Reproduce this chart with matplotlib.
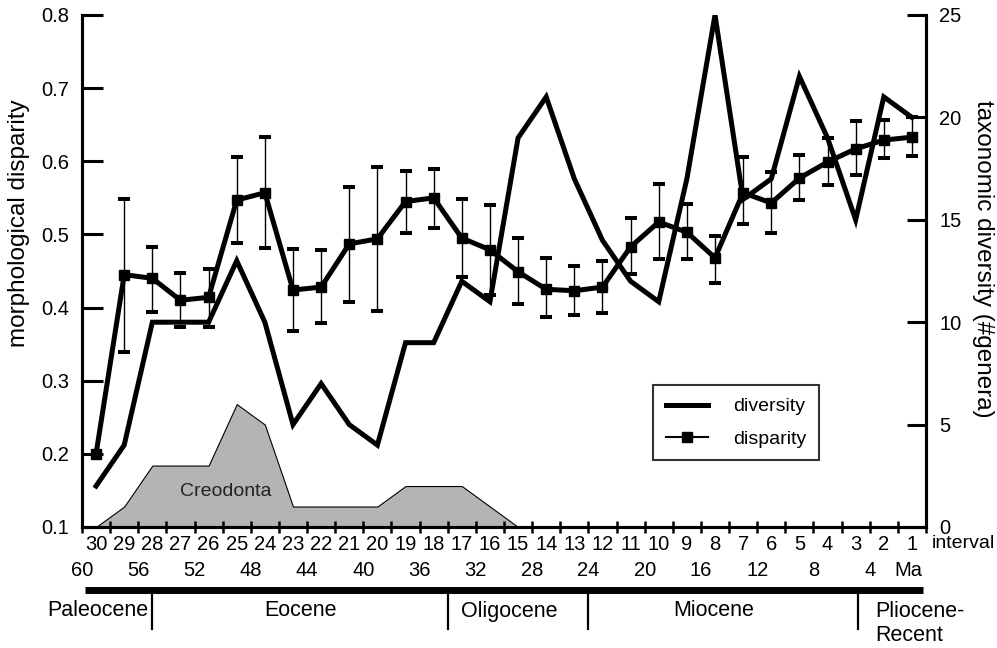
import numpy as np
import matplotlib
matplotlib.use("Agg")
import matplotlib.pyplot as plt
from matplotlib.lines import Line2D

plt.rcParams['font.family'] = ['Liberation Sans', 'DejaVu Sans']

# ---------------- data ----------------
intervals = list(range(30, 0, -1))
diversity = [2, 4, 10, 10, 10, 13, 10, 5, 7, 5, 4, 9, 9, 12, 11,
             19, 21, 17, 14, 12, 11, 17, 25, 16, 17, 22, 19, 15, 21, 20]
disparity = [0.200, 0.445, 0.440, 0.410, 0.414, 0.547, 0.557, 0.424, 0.428, 0.487,
             0.494, 0.545, 0.550, 0.495, 0.479, 0.449, 0.425, 0.423, 0.428, 0.483,
             0.517, 0.503, 0.468, 0.557, 0.543, 0.577, 0.599, 0.617, 0.629, 0.633]
disp_upper = [np.nan, 0.548, 0.483, 0.447, 0.453, 0.606, 0.633, 0.480, 0.479, 0.565,
              0.592, 0.587, 0.589, 0.548, 0.540, 0.495, 0.468, 0.457, 0.464, 0.522,
              0.569, 0.542, 0.498, 0.606, 0.585, 0.609, 0.632, 0.655, 0.656, 0.660]
disp_lower = [np.nan, 0.339, 0.394, 0.373, 0.373, 0.488, 0.481, 0.368, 0.379, 0.408,
              0.395, 0.502, 0.509, 0.442, 0.417, 0.405, 0.387, 0.390, 0.393, 0.446,
              0.466, 0.466, 0.434, 0.514, 0.502, 0.547, 0.568, 0.581, 0.605, 0.607]
creo_intervals = list(range(30, 14, -1))
creodonta = [0, 1, 3, 3, 3, 6, 5, 1, 1, 1, 1, 2, 2, 2, 1, 0]
ma_labels = [60, 56, 52, 48, 44, 40, 36, 32, 28, 24, 20, 16, 12, 8, 4]
periods = ["Paleocene", "Eocene", "Oligocene", "Miocene", "Pliocene-\nRecent"]
period_bounds = [55, 34, 24, 4.8]

# ---------------- layout ----------------
W, H = 997, 648
L, R, B, T = 82, 926, 527, 15
fig = plt.figure(figsize=(W / 100, H / 100), dpi=100)
ax = fig.add_axes([L / W, 1 - B / H, (R - L) / W, (B - T) / H])
ax2 = ax.twinx()

def fy(py):
    return (B - py) / (B - T)

# interval centers in Ma (2-Myr bins)
iv = np.array(intervals)
x_mid = 2 * iv - 1
cx = 2 * np.array(creo_intervals) - 1

# Creodonta shaded area (right-axis units: genera)
ax2.fill_between(cx, 0, creodonta, facecolor='#b4b4b4', edgecolor='black',
                 linewidth=0.8, zorder=1)
ax2.text(49.8, 1.72, "Creodonta", fontsize=14, color='#222222',
         ha='center', va='center', zorder=2)

# diversity
ax2.plot(x_mid, diversity, color='black', lw=3.6, solid_joinstyle='miter', zorder=3)

# disparity with error bars
up = np.array(disp_upper)
lo = np.array(disp_lower)
d = np.array(disparity)
m = ~np.isnan(up)
ax.set_zorder(ax2.get_zorder() + 1)
ax.patch.set_visible(False)
ax.errorbar(x_mid[m], d[m], yerr=[d[m] - lo[m], up[m] - d[m]], fmt='none',
            ecolor='black', elinewidth=1.0, capsize=4.3, capthick=2.9, zorder=2)
ax.plot(x_mid, d, color='black', lw=3.6, marker='s', markersize=7.2,
        solid_joinstyle='miter', zorder=3)

# axes limits
ax.set_xlim(60, 0)
ax.set_ylim(0.1, 0.8)
ax2.set_ylim(0, 25)

# spines
for a in (ax, ax2):
    a.spines['top'].set_visible(False)
    for s in ('left', 'right', 'bottom'):
        a.spines[s].set_linewidth(2.2)

# y ticks
ax.set_yticks(np.arange(0.1, 0.81, 0.1))
ax.set_yticklabels([f"{v:.1f}" for v in np.arange(0.1, 0.81, 0.1)])
ax.tick_params(axis='y', direction='in', length=15, width=2.2, pad=9, labelsize=14.5)
ax2.set_yticks(range(0, 26, 5))
ax2.tick_params(axis='y', direction='in', length=14, width=2.2, pad=9.5, labelsize=14.5)

# x ticks: interval boundaries (major) and interval labels (minor)
ax.set_xticks(np.arange(0, 61, 2))
ax.set_xticklabels([])
ax.tick_params(axis='x', which='major', direction='inout', length=9, width=1.8)
ax.set_xticks(x_mid, minor=True)
ax.set_xticklabels([str(i) for i in intervals], minor=True)
ax.tick_params(axis='x', which='minor', length=0, pad=6, labelsize=14.5)
ax2.tick_params(axis='x', which='both', length=0)

# axis labels
ax.set_ylabel("morphological disparity", fontsize=17.5)
ax.yaxis.set_label_coords(-0.062, fy(223))
ax2.set_ylabel("taxonomic diversity (#genera)", fontsize=17.5, rotation=270, va='bottom')
ax2.yaxis.set_label_coords(1.054, fy(259))

xt = ax.get_xaxis_transform()
ax.text(1.007, fy(543), "interval", transform=ax.transAxes, fontsize=14,
        ha='left', va='center')
for v in ma_labels:
    ax.text(v, fy(570), str(v), transform=xt, fontsize=14.5, ha='center', va='center')
ax.text(1.25, fy(570), "Ma", transform=xt, fontsize=14.5, ha='center', va='center')

# geological time bar
ax.add_line(Line2D([59.8, 0.2], [fy(590), fy(590)], transform=xt, color='black',
                   lw=5, solid_capstyle='butt', clip_on=False))
for b in period_bounds:
    ax.add_line(Line2D([b, b], [fy(590), fy(629)], transform=xt, color='black',
                       lw=1.6, clip_on=False))
period_x = [58.85, 44.5, 29.6, 15.1]
for name, px in zip(periods[:4], period_x):
    ax.text(px, fy(611), name, transform=xt, fontsize=15.5, ha='center', va='center')
ax.text(3.6, fy(601), periods[4], transform=xt, fontsize=15.5, ha='left', va='top',
        linespacing=1.2)

# legend
handles = [Line2D([], [], color='black', lw=3.6),
           Line2D([], [], color='black', lw=1.5, marker='s', markersize=7.2)]
leg = ax.legend(handles, ["diversity", "disparity"], loc='upper left',
                bbox_to_anchor=((653 - L) / (R - L), fy(385)), borderaxespad=0,
                fontsize=14, frameon=True, fancybox=False, handlelength=2.15,
                handletextpad=1.3, borderpad=0.66, labelspacing=0.75)
leg.get_frame().set_edgecolor('black')
leg.get_frame().set_linewidth(1.5)

fig.savefig("out.png", dpi=100)
